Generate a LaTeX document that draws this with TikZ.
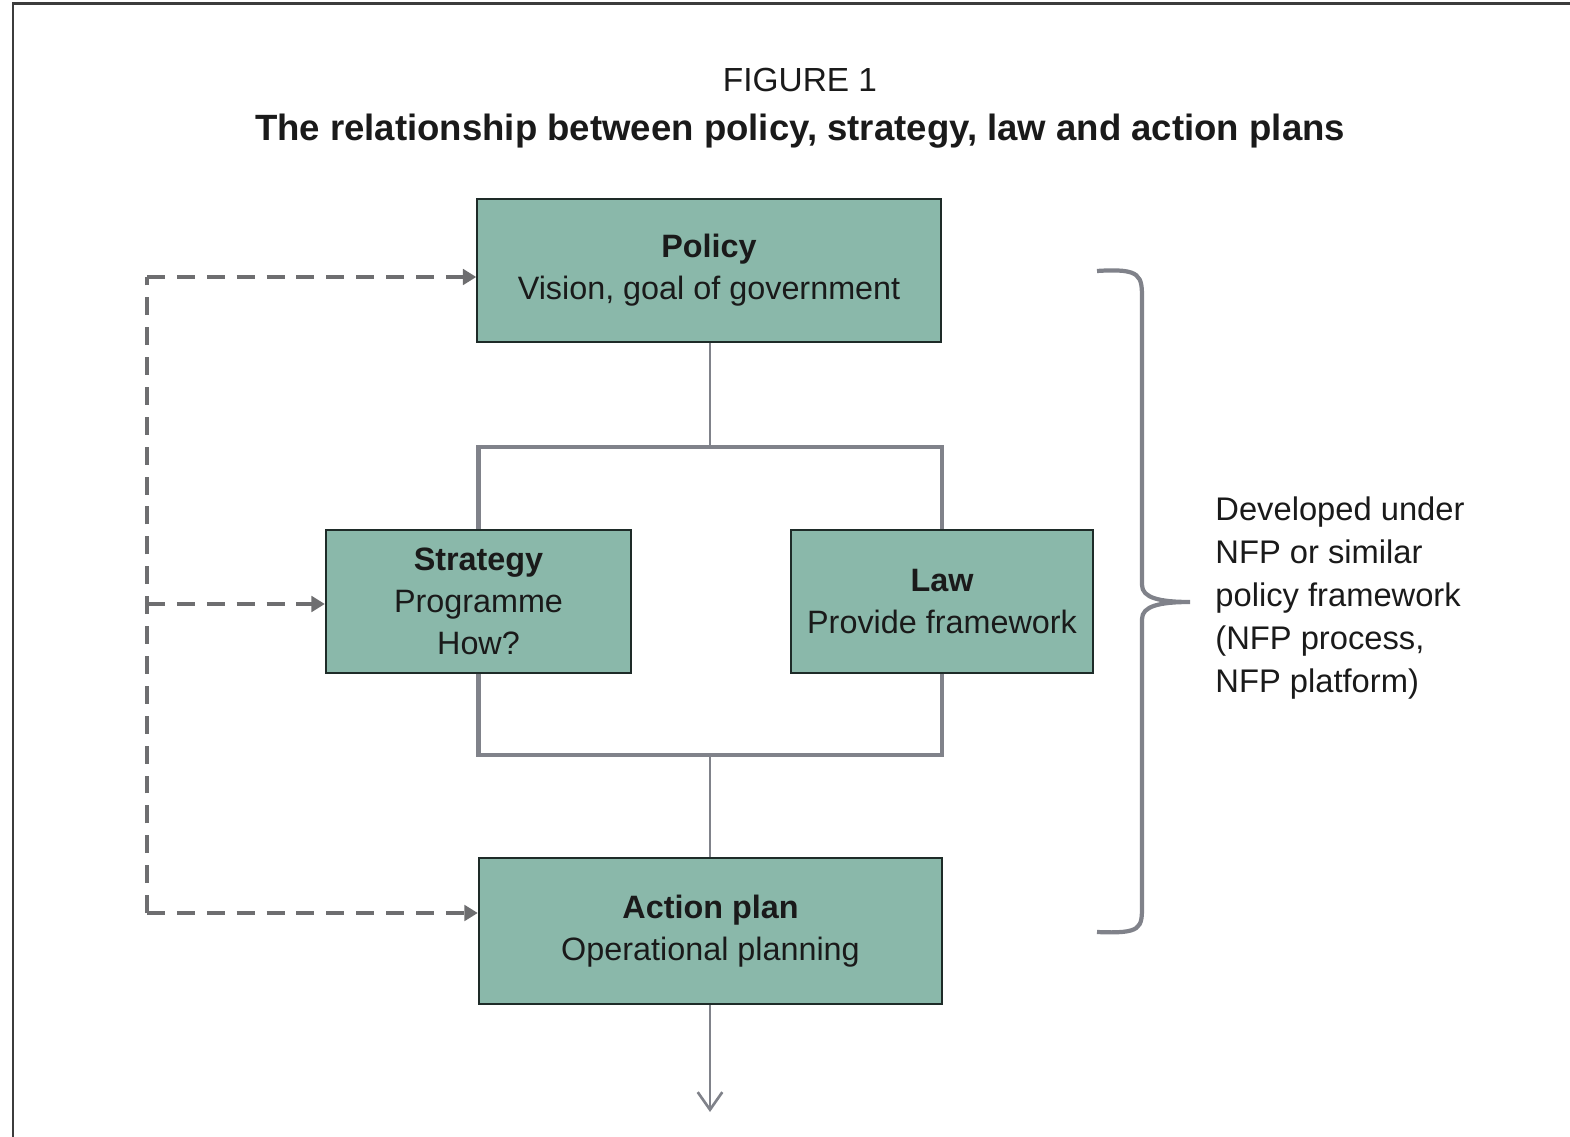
\documentclass[tikz,border=0pt]{standalone}
\usepackage{fontspec}
\setmainfont{Liberation Sans}
\usetikzlibrary{arrows.meta}
\usepackage{xcolor}
\definecolor{boxfill}{HTML}{8AB8AA}
\definecolor{boxline}{HTML}{1E2B28}
\definecolor{barline}{HTML}{80828A}
\definecolor{dashline}{HTML}{6E6E70}
\definecolor{frameline}{HTML}{3C3C3C}
\definecolor{ink}{HTML}{1A1A1A}

\tikzset{
  stage/.style={draw=boxline,line width=0.6pt,fill=boxfill,minimum width=4.63cm,minimum height=1.43cm,
    inner sep=0pt,align=center,text=ink,font=\fontsize{9.2}{12}\selectfont},
  bar/.style={draw=barline,line width=1.3pt},
  stem/.style={draw=barline,line width=0.75pt},
  feedback/.style={draw=dashline,line width=1.1pt,dash pattern=on 5.1pt off 3.4pt},
  tip/.style={-{Triangle[length=3.8pt,width=4.4pt]}},
}

\begin{document}
\begin{tikzpicture}[x=0.01cm,y=-0.01cm]
	\useasboundingbox (0,0) rectangle (1570,1137);
	\draw [frameline,line width=0.85pt] (13,4) rectangle (1620,1180);
	% titles
	\node (fig) at (800,80) {\textcolor{ink}{\fontsize{9.5}{11}\selectfont FIGURE 1}};
	\node (title) at (800,131) {\textcolor{ink}{\fontsize{10.4}{12}\selectfont\bfseries The relationship between policy, strategy, law and action plans}};
	% boxes
	\node [stage] (policy) at (709,270.5) {\textbf{Policy}\\Vision, goal of government};
	\node [stage,minimum width=3.05cm] (strategy) at (478.5,601.5) {\textbf{Strategy}\\Programme\\How?};
	\node [stage,minimum width=3.02cm] (law) at (942,601.5) {\textbf{Law}\\Provide framework};
	\node [stage,minimum height=1.46cm] (action) at (710.5,931) {\textbf{Action plan}\\Operational planning};
	% connectors
	\coordinate (topbar) at (710,447);
	\coordinate (botbar) at (710,755);
	\coordinate (out) at (710,1112);
	\draw [stem] (topbar |- policy.south) -- (topbar);
	\draw [bar] (strategy.north) |- (topbar) -| (law.north);
	\draw [bar] (strategy.south) |- (botbar) -| (law.south);
	\draw [stem] (botbar) -- (botbar |- action.north);
	\draw [stem,-{Straight Barb[length=5pt,width=7pt]}] (out |- action.south) -- (out);
	% feedback loop
	\coordinate (looptop) at (147,277);
	\coordinate (loopbot) at (147,913);
	\draw [feedback] (loopbot) -- (looptop);
	\draw [feedback,tip] (looptop) -- (looptop -| policy.west);
	\draw [feedback,tip] (loopbot |- 0,604) -- (strategy.west |- 0,604);
	\draw [feedback,tip] (loopbot) -- (loopbot -| action.west);
	% brace
	\draw [barline,line width=1.2pt] (1097,271) .. controls (1142,268) and (1142,276) .. (1142,300)
		-- (1142,585) .. controls (1142,598) and (1160,602) .. (1190,602)
		.. controls (1160,602) and (1142,606) .. (1142,619)
		-- (1142,905) .. controls (1142,928) and (1142,934) .. (1097,932);
	\node [anchor=west,align=left,text=ink,font=\fontsize{9.3}{12.2}\selectfont] (note) at (1203,598)
		{Developed under\\NFP or similar\\policy framework\\(NFP process,\\NFP platform)};
\end{tikzpicture}
\end{document}
